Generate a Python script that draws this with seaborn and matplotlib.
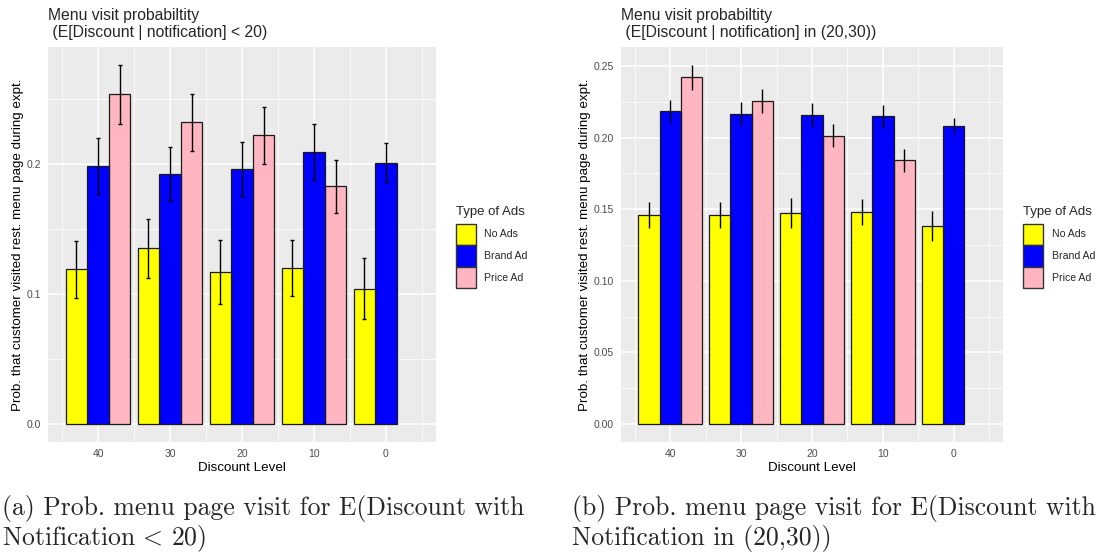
import numpy as np
import pandas as pd
import matplotlib
matplotlib.use("Agg")
import matplotlib.pyplot as plt
import seaborn as sns
from matplotlib.patches import Patch
from matplotlib.container import BarContainer
from matplotlib.ticker import FixedLocator

# ---------------- data ----------------
discount_levels = [40, 30, 20, 10, 0]
ad_types = ["No Ads", "Brand Ad", "Price Ad"]

# panel (a): E[Discount | notification] < 20
a_no_ads = [0.119, 0.135, 0.117, 0.120, 0.104]
a_no_ads_err = [0.022, 0.0225, 0.0248, 0.0215, 0.0233]
a_brand = [0.1985, 0.192, 0.196, 0.209, 0.201]
a_brand_err = [0.0215, 0.0207, 0.021, 0.0218, 0.0148]
a_price = [0.2534, 0.232, 0.222, 0.1826]          # no Price Ad at 0
a_price_err = [0.0226, 0.022, 0.022, 0.0203]

# panel (b): E[Discount | notification] in (20,30)
b_no_ads = [0.1458, 0.1458, 0.1474, 0.1479, 0.1384]
b_no_ads_err = [0.009, 0.009, 0.0108, 0.009, 0.0104]
b_brand = [0.2184, 0.2166, 0.2161, 0.215, 0.2082]
b_brand_err = [0.0082, 0.0082, 0.0083, 0.008, 0.0056]
b_price = [0.2421, 0.2258, 0.2013, 0.1841]         # no Price Ad at 0
b_price_err = [0.0087, 0.0084, 0.008, 0.0078]

titles = ["Menu visit probabiltity\n (E[Discount | notification] < 20)",
          "Menu visit probabiltity\n (E[Discount | notification] in (20,30))"]
captions = [["(a) Prob. menu page visit for E(Discount with", r"Notification$\,<\,$20)"],
            ["(b) Prob. menu page visit for E(Discount with", "Notification in (20,30))"]]
y_label = "Prob. that customer visited rest. menu page during expt."
x_label = "Discount Level"
legend_title = "Type of Ads"

colors = {"No Ads": "#FFFF00", "Brand Ad": "#0000FF", "Price Ad": "#FFB6C1"}


def build_df(no_ads, no_err, brand, brand_err, price, price_err):
    rows = []
    for t, vals, errs in [("No Ads", no_ads, no_err),
                          ("Brand Ad", brand, brand_err),
                          ("Price Ad", price, price_err)]:
        for d, v, e in zip(discount_levels, vals, errs):
            rows.append({"discount": d, "type": t, "prob": v, "err": e})
    return pd.DataFrame(rows)


df_a = build_df(a_no_ads, a_no_ads_err, a_brand, a_brand_err, a_price, a_price_err)
df_b = build_df(b_no_ads, b_no_ads_err, b_brand, b_brand_err, b_price, b_price_err)

# ---------------- style ----------------
sns.set_style("white")
plt.rcParams["font.family"] = ["Liberation Sans", "DejaVu Sans"]
plt.rcParams["mathtext.fontset"] = "cm"

fig = plt.figure(figsize=(11, 5.55), dpi=100)
W, H = 1100, 555
axes = [fig.add_axes([48 / W, 1 - 442 / H, 388 / W, 395 / H]),
        fig.add_axes([621 / W, 1 - 442 / H, 382 / W, 395 / H])]

configs = [
    dict(df=df_a, ax=axes[0], major=[0.0, 0.1, 0.2], fmt="{:.1f}", step=0.1, cap=1.3,
         leg=(456, 206)),
    dict(df=df_b, ax=axes[1], major=[0.0, 0.05, 0.10, 0.15, 0.20, 0.25], fmt="{:.2f}",
         step=0.05, cap=0.0, leg=(1023, 206)),
]

for i, cfg in enumerate(configs):
    df, ax = cfg["df"], cfg["ax"]
    sns.barplot(data=df, x="discount", y="prob", hue="type",
                hue_order=["Price Ad", "Brand Ad", "No Ads"], palette=colors,
                native_scale=True, width=0.9, dodge=True, errorbar=None,
                saturation=1, edgecolor="#1a1a1a", linewidth=0.9,
                legend=False, ax=ax, zorder=3)

    # error bars placed at the centres of the drawn bars
    bar_conts = [c for c in ax.containers if isinstance(c, BarContainer)]
    for cont in bar_conts:
        for p in cont.patches:
            h = p.get_height()
            if not np.isfinite(h):
                continue
            cx = p.get_x() + p.get_width() / 2
            cand = df[(np.abs(df["discount"] - cx) <= 4.6) & (np.abs(df["prob"] - h) < 1e-9)]
            if len(cand) == 0:
                continue
            e = cand["err"].iloc[0]
            ax.errorbar(cx, h, yerr=e, fmt="none", ecolor="black", elinewidth=1.0,
                        capsize=cfg["cap"], capthick=1.0, zorder=4)

    top = (df["prob"] + df["err"]).max()
    pad = top * 0.05
    ax.set_ylim(-pad, top + pad)
    ax.set_xlim(46.95, -6.95)

    ax.set_facecolor("#EBEBEB")
    for s in ax.spines.values():
        s.set_visible(False)
    ax.xaxis.set_major_locator(FixedLocator(discount_levels))
    ax.xaxis.set_minor_locator(FixedLocator([45, 35, 25, 15, 5, -5]))
    ax.set_xticklabels([str(d) for d in discount_levels])
    major = cfg["major"]
    ax.yaxis.set_major_locator(FixedLocator(major))
    ax.yaxis.set_minor_locator(FixedLocator([m + cfg["step"] / 2 for m in major]))
    ax.set_yticklabels([cfg["fmt"].format(m) for m in major])
    ax.grid(which="major", color="white", linewidth=1.1, zorder=0)
    ax.grid(which="minor", color="white", linewidth=0.55, zorder=0)
    ax.set_axisbelow(True)
    ax.tick_params(which="major", length=3, width=0.8, color="#333333",
                   labelsize=7.5, labelcolor="#4D4D4D", pad=2)
    ax.tick_params(which="minor", length=0)
    ax.set_xlabel(x_label, fontsize=9.6, color="black", labelpad=2)
    ax.set_ylabel(y_label, fontsize=9.6, color="black", labelpad=1.8)
    ax.set_title(titles[i], loc="left", fontsize=11.3, pad=7.2, linespacing=1.2)

    handles = [Patch(facecolor=colors[t], edgecolor="#333333", linewidth=1.0, label=t)
               for t in ad_types]
    lx, ly = cfg["leg"]
    leg = fig.legend(handles=handles, title=legend_title, loc="upper left",
                     bbox_to_anchor=(lx / W, 1 - ly / H), frameon=False,
                     fontsize=7.6, title_fontsize=9.5, handlelength=1.9,
                     handleheight=2.76, labelspacing=0.0, handletextpad=0.8,
                     borderpad=0.0, borderaxespad=0.0, alignment="left")
    leg._legend_box.sep = 4.0

# captions in Computer Modern
for i, (l1, l2) in enumerate(captions):
    x0 = [2, 572][i]
    fig.text(x0 / W, 1 - 515 / H, l1, family="cmr10", fontsize=18.5, va="baseline", ha="left")
    fig.text(x0 / W, 1 - 545.5 / H, l2, family="cmr10", fontsize=18.5, va="baseline", ha="left")

fig.savefig("out.png", dpi=100)
